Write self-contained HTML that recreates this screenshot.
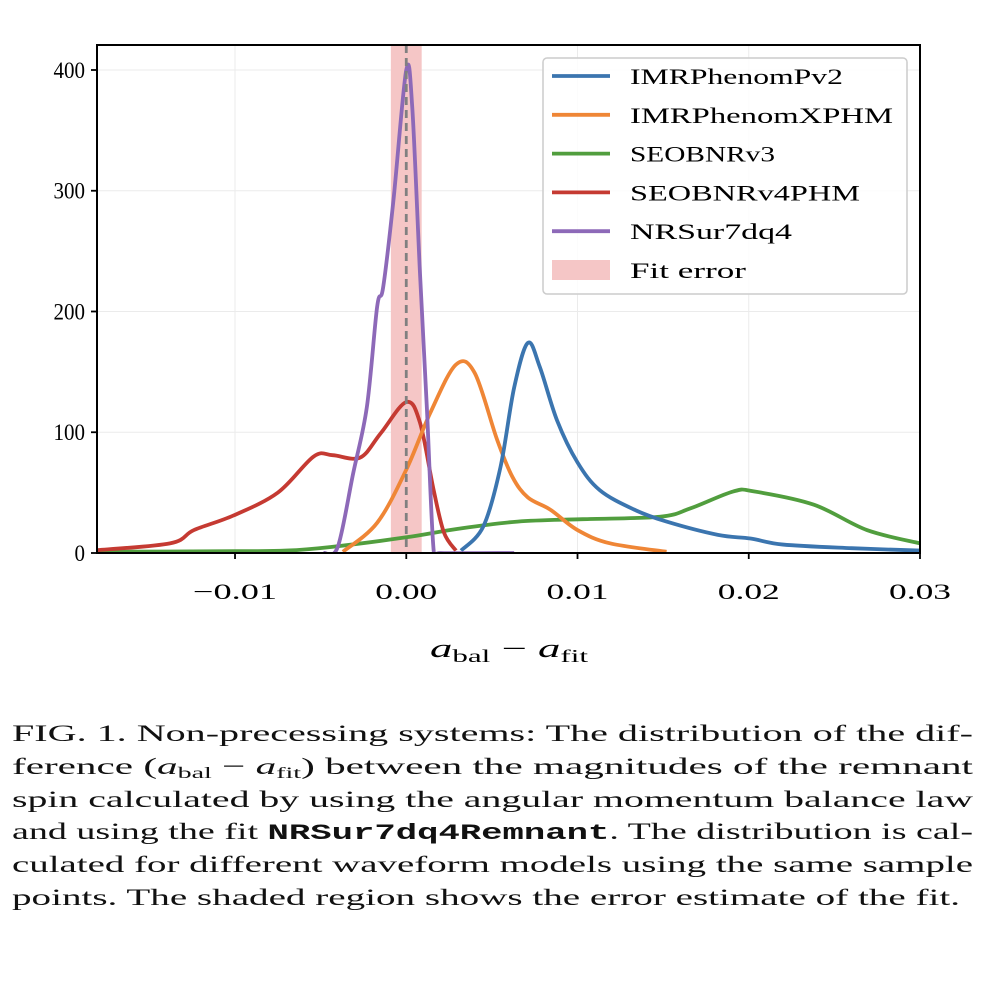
<!DOCTYPE html>
<html><head><meta charset="utf-8">
<style>
body{margin:0;background:#fff;width:984px;height:986px;overflow:hidden;font-family:"Liberation Serif",serif;}
</style></head><body>
<svg id="chart" width="984" height="986" style="position:absolute;left:0;top:0" font-family="Liberation Serif, serif">
<g font-size="23.5" fill="#111">
<text x="12" y="741" textLength="961" lengthAdjust="spacingAndGlyphs">FIG. 1. Non-precessing systems: The distribution of the dif-</text>
<text x="12" y="774" textLength="961" lengthAdjust="spacingAndGlyphs">ference (<tspan font-style="italic">a</tspan><tspan font-size="16" dy="4">bal</tspan><tspan dy="-4"> − </tspan><tspan font-style="italic">a</tspan><tspan font-size="16" dy="4">fit</tspan><tspan dy="-4">) between the magnitudes of the remnant</tspan></text>
<text x="12" y="807" textLength="961" lengthAdjust="spacingAndGlyphs">spin calculated by using the angular momentum balance law</text>
<text x="12" y="839" textLength="961" lengthAdjust="spacingAndGlyphs">and using the fit <tspan font-family="Liberation Mono, monospace" font-weight="bold" font-size="22">NRSur7dq4Remnant</tspan>. The distribution is cal-</text>
<text x="12" y="872" textLength="961" lengthAdjust="spacingAndGlyphs">culated for different waveform models using the same sample</text>
<text x="12" y="905" textLength="948" lengthAdjust="spacingAndGlyphs">points. The shaded region shows the error estimate of the fit.</text>
</g>
</svg>
<script>
const xTicks=[-0.01,0,0.01,0.02,0.03];
const xTickLabels=["−0.01","0.00","0.01","0.02","0.03"];
const yTicks=[0,100,200,300,400];
const seriesNames=["IMRPhenomPv2","IMRPhenomXPHM","SEOBNRv3","SEOBNRv4PHM","NRSur7dq4"];
const seriesColors=["#3b75af","#ef8636","#519e3e","#c53a32","#8d69b8"];
const pv2X=[3.2,4.5,5.5,6.3,7.1,7.8,8.8,10.0,11.3,13.3,15.2,18.2,20.1,22.0,26,30];
const pv2Y=[2,22,71,137,174,154,110,75,52,36,26,15,12,7,4,2];
const xphmX=[-3.7,-1.7,0,1.4,2.9,4.0,5.3,6.2,7.1,8.4,10.0,11.9,15.2];
const xphmY=[1,25,69,116,156,149,94,63,46,36,19,8,1];
const v3X=[-18,-10,-7,-4.4,0,3,6.5,10.3,14.8,16.6,19.1,20.3,23.8,26.9,30];
const v3Y=[1,1.5,2,5,13,20,26,28,30,37,51,51,40,19,8];
const v4X=[-18.4,-13.8,-12.4,-10.1,-7.5,-5.4,-4.3,-2.7,-1.5,0,0.8,1.6,2.2,2.9];
const v4Y=[2,8,19,31,50,80,81,79,99,125,108,52,17,2];
const nrX=[-4.8,-4.0,-3.1,-2.3,-1.7,-1.35,-0.75,0,0.35,0.8,1.2,1.6,2.0,6.3];
const nrY=[0,5,66,121,204,220,292,400,369,232,121,2,0,0];
const fitErr=[-0.0009,0.0009];

const svg=document.getElementById('chart');
const NS='http://www.w3.org/2000/svg';
const L=97,R=920,T=45,B=553;
const xmin=-0.01806,xmax=0.03,ymin=0,ymax=420.7;
const sx=v=>L+(v-xmin)/(xmax-xmin)*(R-L);
const sy=v=>B-(v-ymin)/(ymax-ymin)*(B-T);
function el(t,a,p){const e=document.createElementNS(NS,t);for(const k in a)e.setAttribute(k,a[k]);(p||svg).appendChild(e);return e;}
const defs=el('defs',{});const cp=el('clipPath',{id:'cp'},defs);el('rect',{x:L,y:T,width:R-L,height:B-T},cp);
xTicks.forEach(v=>{const g=el('line',{x1:sx(v),x2:sx(v),y1:T,y2:B,stroke:'#ebebeb','stroke-width':1});

});
yTicks.forEach(v=>{const g=el('line',{x1:L,x2:R,y1:sy(v),y2:sy(v),stroke:'#ebebeb','stroke-width':1});

});
const band=el('rect',{x:sx(fitErr[0]),y:T,width:sx(fitErr[1])-sx(fitErr[0]),height:B-T,fill:'#f5c6c6'});


function path(xs,ys){const p=xs.map((x,i)=>[sx(x/1000),sy(ys[i])]);let d='M'+p[0][0]+','+p[0][1];
for(let i=0;i<p.length-1;i++){const p0=p[Math.max(0,i-1)],p1=p[i],p2=p[i+1],p3=p[Math.min(p.length-1,i+2)];
const c1=[p1[0]+(p2[0]-p0[0])/6,p1[1]+(p2[1]-p0[1])/6],c2=[p2[0]-(p3[0]-p1[0])/6,p2[1]-(p3[1]-p1[1])/6];
d+=`C${c1[0]},${c1[1]} ${c2[0]},${c2[1]} ${p2[0]},${p2[1]}`;}return d;}
const data=[[pv2X,pv2Y],[xphmX,xphmY],[v3X,v3Y],[v4X,v4Y],[nrX,nrY]];
const names=['series-imrphenompv2','series-imrphenomxphm','series-seobnrv3','series-seobnrv4phm','series-nrsur7dq4'];
const order=[2,3,1,0,4];
order.forEach(i=>{const e=el('path',{d:path(data[i][0],data[i][1]),fill:'none',stroke:seriesColors[i],'stroke-width':3.8,'stroke-linejoin':'round','clip-path':'url(#cp)'});

});
const dl=el('line',{x1:sx(0),x2:sx(0),y1:T,y2:B,stroke:'#808080','stroke-width':2.8,'stroke-dasharray':'8,5'});


const fr=el('rect',{x:L,y:T,width:R-L,height:B-T,fill:'none',stroke:'#000','stroke-width':2});


xTicks.forEach((v,i)=>{el('line',{x1:sx(v),x2:sx(v),y1:B,y2:B+6,stroke:'#000','stroke-width':1.8});
const w=xTickLabels[i].length===5?84:62;
const t=el('text',{x:sx(v),y:B+46,'text-anchor':'middle','font-size':22,textLength:w,lengthAdjust:'spacingAndGlyphs'});t.textContent=xTickLabels[i];

});
yTicks.forEach(v=>{el('line',{x1:L-6,x2:L,y1:sy(v),y2:sy(v),stroke:'#000','stroke-width':1.8});
const s=String(v);
const t=el('text',{x:L-12,y:sy(v)+8,'text-anchor':'end','font-size':23,textLength:s.length*10.5,lengthAdjust:'spacingAndGlyphs'});t.textContent=s;

});
const xl=el('text',{x:430,y:657,'font-size':26,textLength:158,lengthAdjust:'spacingAndGlyphs'});
xl.innerHTML='<tspan font-style="italic">a</tspan><tspan font-size="18" dy="5">bal</tspan><tspan dy="-5"> − </tspan><tspan font-style="italic">a</tspan><tspan font-size="18" dy="5">fit</tspan>';


const lg=el('g',{});


el('rect',{x:543,y:58,width:364,height:236,rx:4,fill:'#fff','fill-opacity':0.85,stroke:'#cccccc','stroke-width':1.5},lg);
const legW=[213,263,145,230,162,116];
seriesNames.concat(['Fit error']).forEach((n,i)=>{const y=76+i*38.8;
const g=el('g',{},lg);


if(i<5)el('line',{x1:552,x2:610,y1:y,y2:y,stroke:seriesColors[i],'stroke-width':3.8},g);
else el('rect',{x:552,y:y-10,width:58,height:20,fill:'#f5c6c6'},g);
const t=el('text',{x:630,y:y+8,'font-size':22,textLength:legW[i],lengthAdjust:'spacingAndGlyphs'},g);t.textContent=n;});
</script>
</body></html>
